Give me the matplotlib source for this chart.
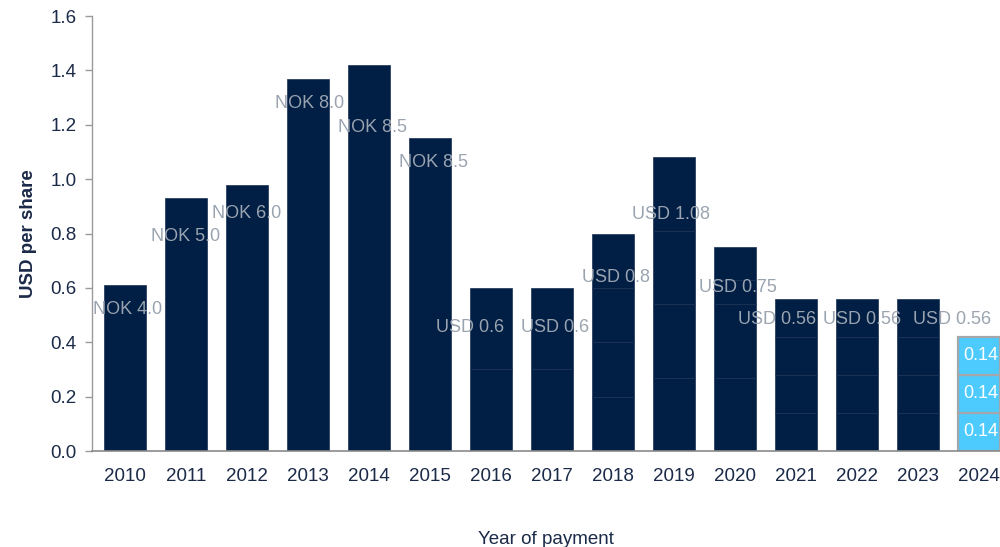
import matplotlib
matplotlib.use("Agg")
import matplotlib.pyplot as plt
import numpy as np

plt.rcParams["font.family"] = ["Liberation Sans", "DejaVu Sans"]

years = ["2010", "2011", "2012", "2013", "2014", "2015", "2016", "2017",
         "2018", "2019", "2020", "2021", "2022", "2023", "2024"]

# dividend paid per year, split into the instalments paid that year (USD per share)
paid_segments = [
    [0.61],
    [0.93],
    [0.98],
    [1.37],
    [1.42],
    [1.15],
    [0.30, 0.30],
    [0.30, 0.30],
    [0.20, 0.20, 0.20, 0.20],
    [0.27, 0.27, 0.27, 0.27],
    [0.27, 0.27, 0.09, 0.12],
    [0.14, 0.14, 0.14, 0.14],
    [0.14, 0.14, 0.14, 0.14],
    [0.14, 0.14, 0.14, 0.14],
]
labels = ["NOK 4.0", "NOK 5.0", "NOK 6.0", "NOK 8.0", "NOK 8.5", "NOK 8.5",
          "USD 0.6", "USD 0.6", "USD 0.8", "USD 1.08", "USD 0.75",
          "USD 0.56", "USD 0.56", "USD 0.56"]
# announced quarterly dividends for the current year
current_segments = [0.14, 0.14, 0.14]

# label nudges relative to bar centre / bar top
label_dx = [0.05, 0.0, 0.0, 0.03, 0.05, 0.05, -0.35, 0.05, 0.05, -0.05, 0.05,
            -0.31, 0.08, 0.56]
label_dy = [-0.09, -0.14, -0.105, -0.09, -0.23, -0.09, -0.144, -0.144, -0.16,
            -0.21, -0.147, -0.078, -0.078, -0.078]

navy = "#011e44"
text_navy = "#1b2a48"
label_grey = "#9aa4b0"
light_blue = "#4dcbff"

fig = plt.figure(figsize=(10, 5.47), dpi=100)
ax = fig.add_axes([0.092, 0.1755, 0.908, 0.795])

width = 0.69
x = np.arange(len(years))
for i, segs in enumerate(paid_segments):
    bottom = 0.0
    for v in segs:
        ax.bar(x[i], v, width=width, bottom=bottom, color=navy,
               edgecolor="#1a3054", linewidth=0.5)
        bottom += v
    ax.text(x[i] + label_dx[i], bottom + label_dy[i], labels[i],
            ha="center", va="center", fontsize=13, color=label_grey)

i_now = len(years) - 1
bottom = 0.0
for v in current_segments:
    ax.bar(x[i_now], v, width=width, bottom=bottom, color=light_blue,
           edgecolor="#a3a6aa", linewidth=1.6)
    ax.text(x[i_now] + 0.02, bottom + v / 2, f"{v:.2f}", ha="center", va="center",
            fontsize=13, color="white")
    bottom += v

ax.set_xlim(-0.54, 14.34)
ax.set_ylim(0, 1.6)
ax.set_yticks(np.arange(0, 1.61, 0.2))
ax.set_yticklabels([f"{t:.1f}" for t in np.arange(0, 1.61, 0.2)])
ax.set_xticks(x)
ax.set_xticklabels(years)
ax.tick_params(axis="y", colors="#9a9a9a", labelcolor=text_navy, labelsize=13.5,
               length=5, width=1, pad=6)
ax.tick_params(axis="x", length=0, labelcolor=text_navy, labelsize=13.5, pad=12)

for side in ("top", "right"):
    ax.spines[side].set_visible(False)
ax.spines["left"].set_color("#9a9a9a")
ax.spines["bottom"].set_color("#8a8a8a")
ax.spines["left"].set_linewidth(1)
ax.spines["bottom"].set_linewidth(1.2)

ax.set_ylabel("USD per share", fontsize=13.5, fontweight="bold", color=text_navy,
              labelpad=10)
ax.set_xlabel("Year of payment", fontsize=13.5, color=text_navy, labelpad=33)

fig.savefig("out.png", dpi=100)
